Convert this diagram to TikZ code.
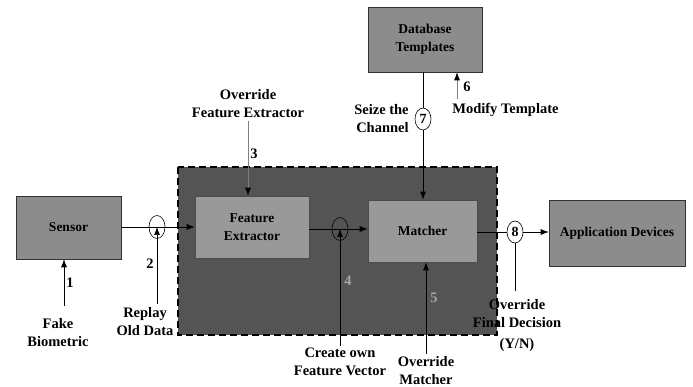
\documentclass[tikz,border=0pt]{standalone}
\usepackage{fontspec}
\setmainfont{Liberation Serif}
\usepackage{tikz}
\usetikzlibrary{arrows.meta,shapes.geometric}

\begin{document}
\begin{tikzpicture}[x=1pt,y=-1pt,
    block/.style={draw=black!80,fill=black!45,line width=0.6pt,font=\fontsize{13.5}{16}\selectfont\bfseries,align=center,inner sep=0pt},
    inblock/.style={block,fill=black!40,draw=black!70},
    hole/.style={ellipse,draw,line width=0.6pt,minimum width=16pt,minimum height=23pt,inner sep=0pt,font=\fontsize{14}{14}\selectfont\bfseries},
    lbl/.style={align=center,inner sep=0pt,font=\fontsize{14.5}{18}\selectfont\bfseries},
    num/.style={inner sep=0pt,font=\fontsize{14.5}{14.5}\selectfont\bfseries},
    tip/.style={-{Latex[length=8pt,width=6pt,color=black]}},
    line width=0.7pt]
  \useasboundingbox (0,0) rectangle (693,387);

  % trusted area
  \draw[fill=black!67,line width=1.6pt,dash pattern=on 7pt off 4pt] (178,167) rectangle (497,335);

  \node[block,minimum width=105pt,minimum height=63pt] (sensor) at (68.5,227.5) {Sensor};
  \node[inblock,minimum width=114pt,minimum height=62pt] (fe) at (252,227) {Feature\\[2pt]Extractor};
  \node[inblock,minimum width=109pt,minimum height=62pt] (matcher) at (422.5,231) {Matcher};
  \node[block,minimum width=136pt,minimum height=66pt] (app) at (617,233) {Application Devices};
  \node[block,minimum width=114pt,minimum height=65pt] (db) at (425,39.5) {Database\\[2pt]Templates};

  % attack points
  \node[hole] (c2) at (157,227) {};
  \node[hole] (c4) at (340,229) {};
  \node[hole,fill=white,minimum height=22pt] (c7) at (423,119) {7};
  \node[hole,fill=white,minimum height=22pt] (c8) at (515,232) {8};

  \node[lbl] (fake) at (58,333) {Fake\\Biometric};
  \node[lbl] (replay) at (145,322) {Replay\\Old Data};
  \node[lbl] (ovfe) at (248,104) {Override\\Feature Extractor};
  \node[lbl] (create) at (340,362) {Create own\\Feature Vector};
  \node[lbl] (ovm) at (426,371) {Override\\Matcher};
  \node[lbl,anchor=north] (ovd) at (517,299) {Override\\Final Decision\\[3pt](Y/N)};
  \node[lbl,anchor=east,align=right] (seize) at (409,119) {Seize the\\Channel};
  \node[lbl,anchor=west] (modify) at (452,110) {Modify Template};

  \node[num] at (70,283) {1};
  \node[num] at (150,264) {2};
  \node[num] at (254,154) {3};
  \node[num,text=black!35] at (348,281) {4};
  \node[num,text=black!35] at (434,298) {5};
  \node[num] at (467,87) {6};

  % data path
  \draw[tip] (sensor.east |- c2) -- (fe.west |- c2);
  \draw[tip] (fe.east |- c4) -- (matcher.west |- c4);
  \draw (matcher.east |- c8) -- (c8);
  \draw[tip] (c8) -- (app.west |- c8);
  \draw (db.south -| c7) -- (c7);
  \draw[tip] (c7) -- (matcher.north -| c7);

  % attacks
  \draw[tip] (64,306) -- (sensor.south -| 64,0);
  \draw[tip] (c2 |- 0,304) -- (c2.center);
  \draw[tip,draw=black!50] (ovfe.south) ++(0,3) coordinate (t3) -- (fe.north -| t3);
  \draw[tip] (c4 |- 0,346) -- (c4.center);
  \draw[tip] (ovm.north) ++(0,-3) coordinate (t5) -- (matcher.south -| t5);
  \draw[tip,draw=black!50] (457,99) -- (db.south -| 457,0);
  \draw (c8.south) -- ([yshift=8pt]ovd.north -| c8);
\end{tikzpicture}
\end{document}
